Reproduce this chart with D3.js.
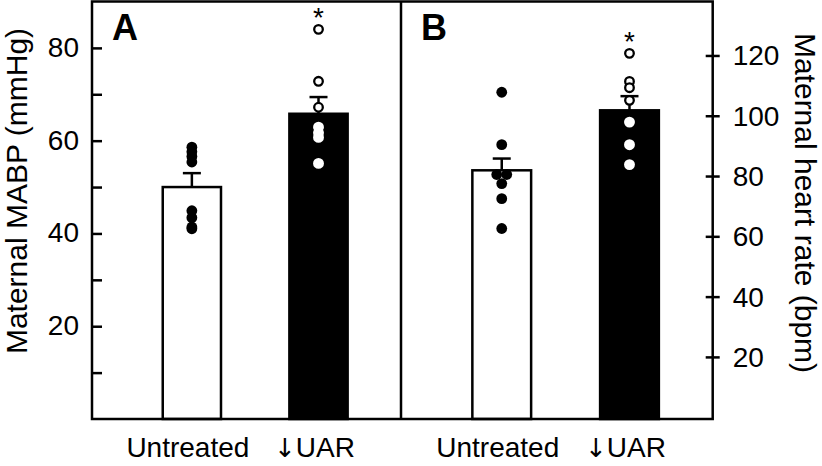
<!DOCTYPE html>
<html lang="en">
    <head>
        <meta charset="utf-8">
        <title>Maternal MABP and heart rate</title>
        <script src="https://d3js.org/d3.v7.min.js"></script>
        <style>
            body { margin: 0; background: #fff; }
            text { font-family: "Liberation Sans", Arial, sans-serif; fill: #000; }
        </style>
    </head>
    <body>
        <script type="text/javascript">
            // data
            const groups = ["Untreated", "\u2193UAR"];

            const mabpMean = [50.0, 65.8];
            const mabpSem = [3.0, 3.6];
            const mabpUntreated = [58.6, 57.6, 56.6, 55.4, 44.9, 43.4, 41.4, 41.0];
            const mabpUar = [84.0, 72.8, 67.2, 62.9, 61.7, 60.7, 55.1];

            const hrMean = [81.9, 101.8];
            const hrSem = [3.9, 4.7];
            const hrUntreated = [107.8, 90.4, 80.5, 80.5, 77.5, 72.5, 62.6];
            const hrUar = [120.7, 111.4, 109.3, 105.1, 97.9, 90.4, 83.8];

            const mabpTicks = [10, 20, 30, 40, 50, 60, 70, 80];
            const mabpLabels = [20, 40, 60, 80];
            const hrTicks = [20, 40, 60, 80, 100, 120];

            const BLACK = "#000";
            const WHITE = "#fff";

            var width = 822,
                height = 466,
                plotTop = 1.5,
                plotBottom = 419,
                plotLeft = 92,
                plotMid = 401,
                plotRight = 712.7;

            var svg = d3.select("body").append("svg")
                .attr("width", width)
                .attr("height", height);

            var yL = d3.scaleLinear().domain([0, 90]).range([plotBottom, plotTop]);
            var yR = d3.scaleLinear().domain([-0.6, 137.9]).range([plotBottom, plotTop]);

            function panel(x0, x1, y, means, sems, sets, letter) {
                var x = d3.scaleBand()
                    .domain(groups)
                    .range([x0, x1])
                    .paddingInner(0.54)
                    .paddingOuter(0.49)
                    .align(0.57);
                var g = svg.append("g");
                var bw = x.bandwidth();

                g.selectAll("rect.bar")
                    .data(groups)
                    .join("rect")
                    .attr("class", "bar")
                    .attr("x", d => x(d))
                    .attr("y", (d, i) => y(means[i]))
                    .attr("width", bw)
                    .attr("height", (d, i) => plotBottom - y(means[i]))
                    .attr("fill", (d, i) => i == 0 ? WHITE : BLACK)
                    .attr("stroke", BLACK)
                    .attr("stroke-width", 2.5);

                // upper error bars
                groups.forEach(function(d, i) {
                    var cx = x(d) + bw / 2;
                    var yt = y(means[i] + sems[i]);
                    g.append("line")
                        .attr("x1", cx).attr("x2", cx)
                        .attr("y1", y(means[i])).attr("y2", yt)
                        .attr("stroke", BLACK).attr("stroke-width", 2.5);
                    g.append("line")
                        .attr("x1", cx - 9).attr("x2", cx + 9)
                        .attr("y1", yt).attr("y2", yt)
                        .attr("stroke", BLACK).attr("stroke-width", 2.5);
                });

                // individual points, equal values spread sideways
                sets.forEach(function(vals, i) {
                    var cx = x(groups[i]) + bw / 2;
                    var pts = vals.map(function(v, k) {
                        var same = vals.filter(w => w == v);
                        var idx = vals.slice(0, k).filter(w => w == v).length;
                        return { v: v, dx: (idx - (same.length - 1) / 2) * 10 };
                    });
                    g.selectAll(null)
                        .data(pts)
                        .join("circle")
                        .attr("cx", d => cx + d.dx)
                        .attr("cy", d => y(d.v))
                        .attr("r", i == 0 ? 5.4 : 4.3)
                        .attr("fill", i == 0 ? BLACK : WHITE)
                        .attr("stroke", d => i == 0 ? "none" : (d.v < means[i] ? WHITE : BLACK))
                        .attr("stroke-width", 2.3);
                    if (i == 1) {
                        g.append("text")
                            .attr("x", cx)
                            .attr("y", y(d3.max(vals)) - 2)
                            .attr("text-anchor", "middle")
                            .style("font-size", "28px")
                            .text("*");
                    }
                });

                var xl = g.selectAll("text.xl")
                    .data(groups)
                    .join("text")
                    .attr("class", "xl")
                    .attr("x", d => x(d) + bw / 2 - 4)
                    .attr("y", 457)
                    .attr("text-anchor", "middle")
                    .style("font-size", "28px");
                // arrow glyph from DejaVu so it stays a plain black glyph
                xl.each(function(d) {
                    var t = d3.select(this);
                    if (d.charAt(0) == "\u2193") {
                        t.append("tspan")
                            .style("font-family", "'DejaVu Sans', sans-serif")
                            .style("font-size", "26px")
                            .text(d.charAt(0));
                        t.append("tspan").text(d.slice(1));
                    } else {
                        t.text(d);
                    }
                });

                g.append("text")
                    .attr("x", x0 + 20)
                    .attr("y", 39.5)
                    .style("font-size", "36px")
                    .style("font-weight", "bold")
                    .text(letter);
            }

            panel(plotLeft, plotMid, yL, mabpMean, mabpSem, [mabpUntreated, mabpUar], "A");
            panel(plotMid, plotRight, yR, hrMean, hrSem, [hrUntreated, hrUar], "B");

            // left axis, ticks inward
            var axL = svg.append("g")
                .attr("transform", "translate(" + plotLeft + ",0)")
                .call(d3.axisLeft(yL)
                    .tickValues(mabpTicks)
                    .tickSizeInner(-10)
                    .tickSizeOuter(0)
                    .tickPadding(13)
                    .tickFormat(d => mabpLabels.includes(d) ? d : ""));
            axL.select(".domain").remove();
            axL.selectAll("line").attr("stroke-width", 2.5);
            axL.selectAll("text")
                .style("font-size", "28px")
                .style("font-family", "'Liberation Sans', Arial, sans-serif")
                .attr("dy", "0.3em");

            // right axis, ticks cross the line
            var axR = svg.append("g")
                .attr("transform", "translate(" + plotRight + ",0)")
                .call(d3.axisRight(yR)
                    .tickValues(hrTicks)
                    .tickSizeInner(7)
                    .tickSizeOuter(0)
                    .tickPadding(13));
            axR.select(".domain").remove();
            axR.selectAll("line").attr("x1", -7).attr("x2", 7).attr("stroke-width", 2.5);
            axR.selectAll("text")
                .style("font-size", "28px")
                .style("font-family", "'Liberation Sans', Arial, sans-serif")
                .attr("dy", "0.34em");

            // frame and divider
            svg.append("rect")
                .attr("x", plotLeft)
                .attr("y", plotTop)
                .attr("width", plotRight - plotLeft)
                .attr("height", plotBottom - plotTop)
                .attr("fill", "none")
                .attr("stroke", BLACK)
                .attr("stroke-width", 2.5);
            svg.append("line")
                .attr("x1", plotMid).attr("x2", plotMid)
                .attr("y1", plotTop).attr("y2", plotBottom)
                .attr("stroke", BLACK)
                .attr("stroke-width", 2.5);

            // axis titles
            svg.append("text")
                .attr("transform", "translate(27,191) rotate(-90)")
                .attr("text-anchor", "middle")
                .style("font-size", "30px")
                .text("Maternal MABP (mmHg)");
            svg.append("text")
                .attr("transform", "translate(795,203) rotate(90)")
                .attr("text-anchor", "middle")
                .style("font-size", "30px")
                .text("Maternal heart rate (bpm)");
        </script>
    </body>
</html>
